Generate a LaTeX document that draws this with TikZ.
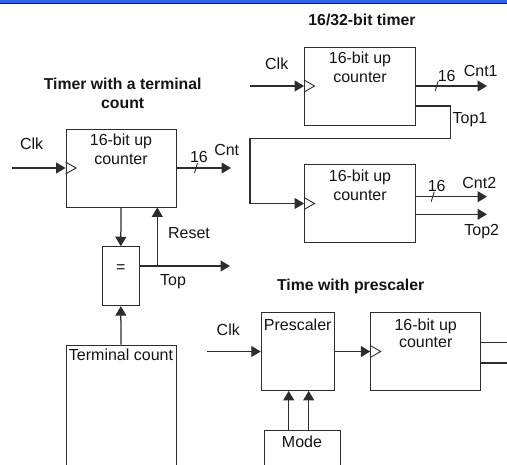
\documentclass[tikz,border=0pt]{standalone}
\usepackage{fontspec}
\setmainfont{Liberation Sans}
\usetikzlibrary{arrows.meta,positioning,calc}
\definecolor{tmline}{RGB}{45,45,45}
\definecolor{tmtext}{RGB}{20,20,20}
\definecolor{tmbar}{RGB}{50,100,232}
\definecolor{tmbarDark}{RGB}{22,32,80}

\begin{document}
\begin{tikzpicture}[x=1pt,y=-1pt,
  every node/.style={font=\fontsize{16}{19.3}\selectfont, text=tmtext},
  blk/.style={draw=tmline, line width=0.9pt, inner sep=0pt},
  sig/.style={draw=tmline, line width=1.25pt, -{Triangle[length=9.5pt,width=11pt]}},
  wire/.style={draw=tmline, line width=1.25pt},
  ttl/.style={font=\bfseries\fontsize{15.8}{19}\selectfont, align=center},
  txt/.style={align=center, inner sep=0pt}]
\useasboundingbox (0,0) rectangle (507,465);
\clip (0,0) rectangle (507,465);

% top bar
\fill[tmbar] (0,0) rectangle (507,2.6);
\draw[tmbarDark, line width=0.9pt] (0,3) -- (507,3);

% timer with a terminal count
\node[ttl] (ttla) at (122.7,93.5) {Timer with a terminal\\count};
\node[blk, minimum width=110pt, minimum height=78pt] (cnta) at (121,168) {};
\node[txt, below=5.2pt of cnta.north] (cntaT) {16-bit up\\counter};
\coordinate (clka) at (12,168);
\node (clkaL) at (31.7,144) {Clk};
\draw[sig] (clka) -- (cnta.west);
\coordinate (cntaO) at (231,168);
\draw[sig] (cnta.east) -- (cntaO);
\coordinate (busa) at (196,168);
\node (busaL) at (199,156.7) {16};
\node (cntaL) at (226.7,150) {Cnt};

\node[blk, minimum width=37pt, minimum height=59pt] (eq) at (120.8,276.2) {};
\node (eqT) at ([yshift=-22.6pt]eq.north) {=};
\draw[sig] (cnta.south) -- (eq.north);
\coordinate (topj) at (157.3,266);
\coordinate (topO) at (230,266);
\draw[sig] (eq.east |- topj) -- (topO);
\draw[sig] (topj) -- (topj |- cnta.south);
\node (resetL) at (189,233.3) {Reset};
\node (topL) at (173,281.7) {Top};

\node[blk, minimum width=110pt, minimum height=140pt] (term) at (121,415) {};
\node[txt, below=4.3pt of term.north] (termT) {Terminal count};
\draw[sig] (term.north) -- (eq.south);

% 16/32-bit timer
\node[ttl] (ttlb) at (362,20) {16/32-bit timer};
\node[blk, minimum width=111pt, minimum height=78pt] (cntb) at (360,86) {};
\node[txt, below=5.3pt of cntb.north] (cntbT) {16-bit up\\counter};
\coordinate (clkb) at (250,86);
\node (clkbL) at (276.7,64) {Clk};
\draw[sig] (clkb) -- (cntb.west);
\coordinate (cntbO) at (487,86);
\draw[sig] (cntb.east) -- (cntbO);
\coordinate (busb) at (436.7,86);
\node (busbL) at (446.7,75.7) {16};
\node (cntbL) at (480.7,70.7) {Cnt1};

\node[blk, minimum width=111pt, minimum height=78pt] (cntc) at (360,203.5) {};
\node[txt, below=5.3pt of cntc.north] (cntcT) {16-bit up\\counter};
\coordinate (t1a) at (450.7,106);
\coordinate (t1b) at (250,138.3);
\draw[sig] (cntb.east |- t1a) -- (t1a) |- (t1b) |- (cntc.west);
\node (top1L) at (470,120) {Top1};
\coordinate (cntcO) at (487,196.7);
\coordinate (topcO) at (487,214.3);
\draw[sig] (cntc.east |- cntcO) -- (cntcO);
\draw[sig] (cntc.east |- topcO) -- (topcO);
\coordinate (busc) at (432.7,196.7);
\node (buscL) at (436.7,186) {16};
\node (cntcL) at (479.3,182.7) {Cnt2};
\node (top2L) at (481.7,231.7) {Top2};

% time with prescaler
\node[ttl] (ttlc) at (350.7,286.7) {Time with prescaler};
\node[blk, minimum width=73pt, minimum height=78pt] (pre) at (297.7,351.5) {};
\node[txt, below=6.2pt of pre.north] (preT) {Prescaler};
\node[blk, minimum width=110pt, minimum height=78pt] (cntd) at (425.7,351.5) {};
\node[txt, font=\fontsize{16}{17.4}\selectfont, below=6.2pt of cntd.north] (cntdT) {16-bit up\\counter};
\coordinate (clkd) at (206.7,351.5);
\node (clkdL) at (228.3,330) {Clk};
\draw[sig] (clkd) -- (pre.west);
\draw[sig] (pre.east) -- (cntd.west);
\coordinate (cntdO) at (520,342.3);
\coordinate (topdO) at (520,363);
\draw[wire] (cntd.east |- cntdO) -- (cntdO);
\draw[wire] (cntd.east |- topdO) -- (topdO);

\node[blk, minimum width=76pt, minimum height=60pt] (mode) at (302,460.7) {};
\node[txt, below=5.2pt of mode.north] (modeT) {Mode};
\coordinate (ma) at ([xshift=-13.3pt]mode.north);
\coordinate (mb) at ([xshift=6.7pt]mode.north);
\draw[sig] (ma) -- (ma |- pre.south);
\draw[sig] (mb) -- (mb |- pre.south);

% clock inputs and bus marks
\foreach \b in {cnta,cntb,cntc,cntd}
  \draw[tmline, line width=0.9pt] ([yshift=6pt]\b.west) -- ([xshift=10.5pt]\b.west) -- ([yshift=-6pt]\b.west);
\foreach \p in {busa,busb,busc}
  \draw[tmline, line width=0.9pt] ([xshift=-1.5pt,yshift=-5pt]\p) -- ([xshift=1.5pt,yshift=5pt]\p);
\end{tikzpicture}
\end{document}
